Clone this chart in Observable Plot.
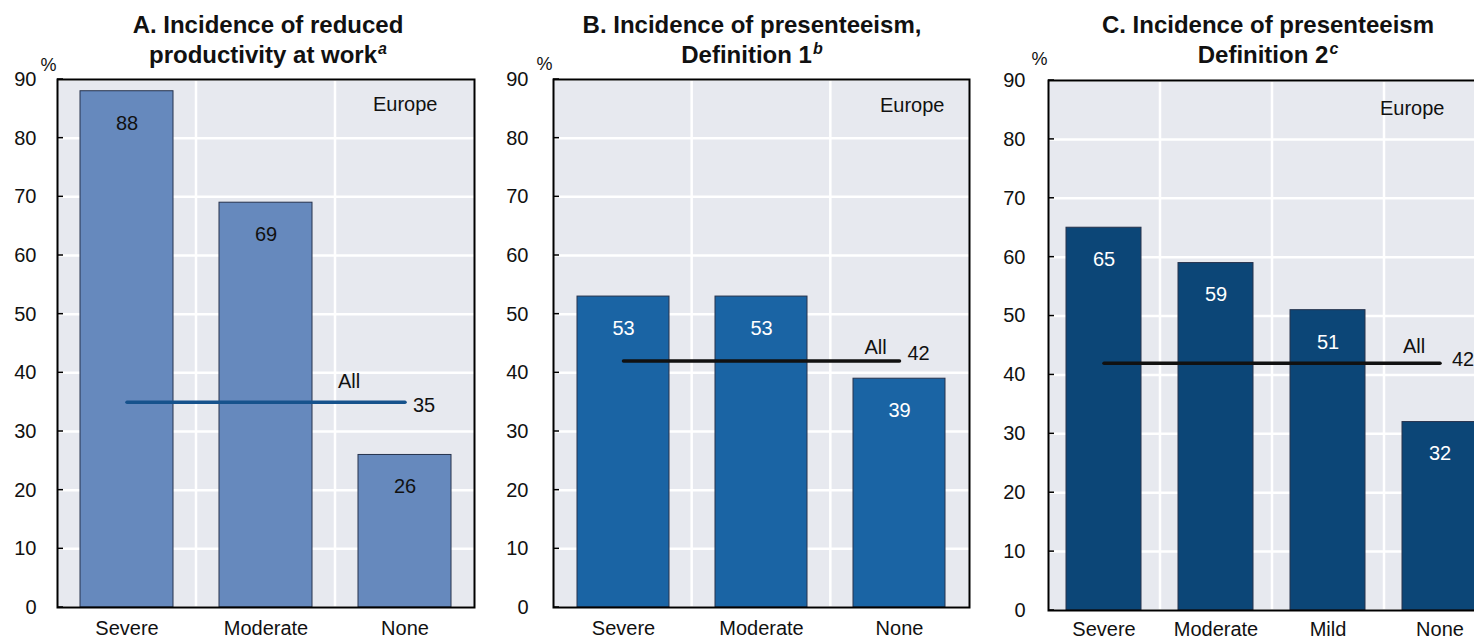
<!DOCTYPE html>
<html><head><meta charset="utf-8">
<script src="https://cdn.jsdelivr.net/npm/d3@7"></script>
<script src="https://cdn.jsdelivr.net/npm/@observablehq/plot@0.6"></script>
<style>
body{margin:0;background:#fff;font-family:"Liberation Sans",Arial,sans-serif;}
#wrap{position:relative;width:1474px;height:640px;overflow:hidden;}
.panel{position:absolute;top:0;}
.panel svg{max-width:none !important;}
.title{position:absolute;top:10px;width:500px;font-weight:bold;font-size:24px;line-height:30px;text-align:center;white-space:nowrap;color:#111;z-index:2;}
.title sup{font-style:italic;font-size:16px;line-height:0;vertical-align:0;position:relative;top:-9px;margin-left:1px;}
</style></head><body><div id="wrap"></div>
<script>
// ---- data ----
const catsA = ["Severe", "Moderate", "None"];
const valsA = [88, 69, 26];
const allA = 35;
const catsB = ["Severe", "Moderate", "None"];
const valsB = [53, 53, 39];
const allB = 42;
const catsC = ["Severe", "Moderate", "Mild", "None"];
const valsC = [65, 59, 51, 32];
const allC = 42;
const yTicks = [0, 10, 20, 30, 40, 50, 60, 70, 80, 90];
const regionLabel = "Europe";
const allLabel = "All";
const unitLabel = "%";
const titleA = ["A. Incidence of reduced", "productivity at work", "a"];
const titleB = ["B. Incidence of presenteeism,", "Definition 1", "b"];
const titleC = ["C. Incidence of presenteeism", "Definition 2", "c"];

const wrap = document.getElementById("wrap");

function panel(cfg) {
  const data = cfg.cats.map((c, i) => ({cat: c, v: cfg.vals[i]}));
  const n = cfg.cats.length;
  const allData = [{cat: cfg.cats[0], v: cfg.all}, {cat: cfg.cats[n - 1], v: cfg.all}];
  const lastAll = [{cat: cfg.cats[n - 1], v: cfg.all}];
  const bandGrid = (index, scales, values, dim) => {
    const g = d3.create("svg:g");
    const W = dim.width - dim.marginLeft - dim.marginRight;
    for (let k = 1; k < n; k++) {
      const x = dim.marginLeft + k * W / n;
      g.append("line").attr("x1", x).attr("x2", x)
        .attr("y1", dim.marginTop).attr("y2", dim.height - dim.marginBottom)
        .attr("stroke", "#fff").attr("stroke-width", 2.5);
    }
    return g.node();
  };
  const inTicks = (index, scales, values, dim) => {
    const g = d3.create("svg:g");
    for (const t of yTicks) {
      const y = scales.y(t);
      g.append("line").attr("x1", dim.marginLeft).attr("x2", dim.marginLeft + 6)
        .attr("y1", y).attr("y2", y).attr("stroke", "#000").attr("stroke-width", 1.5);
    }
    return g.node();
  };
  const svg = Plot.plot({
    width: cfg.width, height: 640,
    marginTop: cfg.mt, marginBottom: cfg.mb, marginLeft: cfg.ml, marginRight: cfg.mr,
    style: {fontFamily: "'Liberation Sans', Arial, sans-serif", fontSize: "20px", color: "#111", background: "transparent", overflow: "visible", maxWidth: "none"},
    x: {domain: cfg.cats, paddingInner: 0.33, paddingOuter: 0.165, label: null},
    y: {domain: [0, 90], label: null},
    marks: [
      Plot.frame({fill: "#e7e9ef", stroke: null}),
      Plot.gridY(yTicks, {stroke: "#fff", strokeOpacity: 1, strokeWidth: 2.5}),
      bandGrid,
      Plot.barY(data, {x: "cat", y: "v", fill: cfg.fill, stroke: "#26334d", strokeWidth: 1}),
      Plot.line(allData, {x: "cat", y: "v", stroke: cfg.lineColor, strokeWidth: 3.5}),
      Plot.text(data, {x: "cat", y: "v", text: d => String(d.v), dy: 32, fill: cfg.labelColor, fontSize: 20}),
      Plot.text(lastAll, {x: "cat", y: "v", text: () => allLabel, textAnchor: "start", dx: cfg.allDx, dy: cfg.allDy, fill: "#111", fontSize: 20}),
      Plot.text(lastAll, {x: "cat", y: "v", text: d => String(d.v), textAnchor: "start", dx: cfg.valDx, dy: cfg.valDy, fill: "#111", fontSize: 20}),
      Plot.text([regionLabel], {frameAnchor: "top-right", textAnchor: "end", lineAnchor: "middle", dx: cfg.euDx, dy: cfg.euDy, text: d => d, fill: "#111", fontSize: 20}),
      Plot.text([unitLabel], {frameAnchor: "top-left", textAnchor: "end", lineAnchor: "middle", dx: -1, dy: cfg.pctDy, text: d => d, fill: "#111", fontSize: 18}),
      Plot.axisY({ticks: yTicks, tickSize: 0, tickPadding: cfg.tp, fontSize: 20, label: null}),
      Plot.axisX({tickSize: 0, tickPadding: cfg.xp, fontSize: 20, label: null}),
      inTicks,
      Plot.frame({stroke: "#000", strokeWidth: 2})
    ]
  });
  svg.style.maxWidth = "none";
  svg.setAttribute("width", cfg.width);
  svg.style.width = cfg.width + "px";
  const div = document.createElement("div");
  div.className = "panel";
  div.style.left = cfg.left + "px";
  div.style.width = cfg.width + "px";
  div.appendChild(svg);
  wrap.appendChild(div);

  const t = document.createElement("div");
  t.className = "title";
  t.style.left = (cfg.titleCenter - 250) + "px";
  t.innerHTML = cfg.title[0] + "<br>" + cfg.title[1] + "<sup>" + cfg.title[2] + "</sup>";
  wrap.appendChild(t);
}

panel({cats: catsA, vals: valsA, all: allA, title: titleA, titleCenter: 268,
  left: 0, width: 490, ml: 57, mr: 16, mt: 79, mb: 33, tp: 21, xp: 13,
  fill: "#6689bd", labelColor: "#111", lineColor: "#16528c",
  allDx: -67, allDy: -21, valDx: 8, valDy: 3, euDx: -37, euDy: 25, pctDy: -14});
panel({cats: catsB, vals: valsB, all: allB, title: titleB, titleCenter: 752,
  left: 490, width: 490, ml: 63, mr: 11, mt: 79, mb: 33, tp: 25, xp: 13,
  fill: "#1a64a4", labelColor: "#fff", lineColor: "#111",
  allDx: -35, allDy: -14, valDx: 8, valDy: -8, euDx: -25, euDy: 26, pctDy: -15});
panel({cats: catsC, vals: valsC, all: allC, title: titleC, titleCenter: 1268,
  left: 980, width: 530, ml: 68, mr: 14, mt: 80, mb: 30, tp: 23, xp: 11,
  fill: "#0c4677", labelColor: "#fff", lineColor: "#111",
  allDx: -37, allDy: -17, valDx: 12, valDy: -4, euDx: -52, euDy: 28, pctDy: -21});
</script></body></html>
